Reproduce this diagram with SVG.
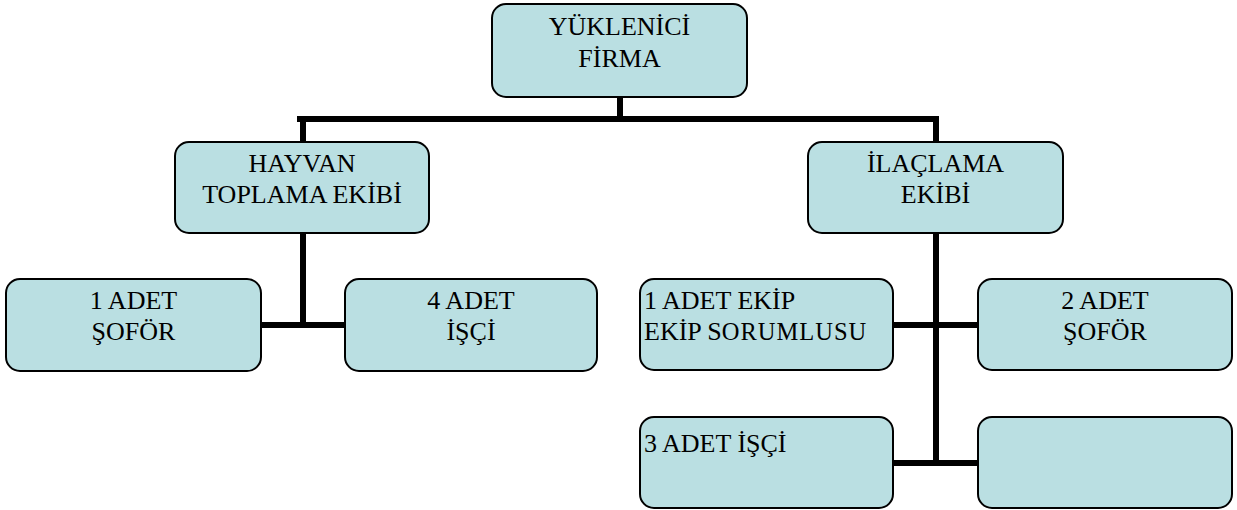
<svg xmlns="http://www.w3.org/2000/svg" width="1237" height="510" viewBox="0 0 1237 510">
<style>
.box{fill:#badfe2;stroke:#000;stroke-width:2}
.t{font-size:26px;fill:#000}
.c{text-anchor:middle}
.sc{font-size:24.5px;letter-spacing:1px}
.con{stroke:#000;stroke-width:6;fill:none}
</style>
<rect width="1237" height="510" fill="#fff"/>
<g id="connectors">
<path class="con" d="M620 97V119M297 119H939M303 119V142M936 119V142"/>
<path class="con" d="M303 233V325M261 325H345"/>
<path class="con" d="M936 233V463M893 325H978M893 463H978"/>
</g>
<g id="nodes" font-family="Liberation Serif, Times New Roman, serif">
<g id="n-yuklenici"><rect class="box" x="492" y="4" width="255" height="93" rx="14"/>
<text class="t c" x="619.5" y="35">YÜKLENİCİ</text><text class="t c" x="619.5" y="67">FİRMA</text></g>
<g id="n-hayvan"><rect class="box" x="175" y="142" width="254" height="91" rx="14"/>
<text class="t c" x="302" y="172">HAYVAN</text><text class="t c" x="302" y="203">TOPLAMA EKİBİ</text></g>
<g id="n-ilaclama"><rect class="box" x="808" y="142" width="255" height="91" rx="14"/>
<text class="t c" x="935.5" y="172">İLAÇLAMA</text><text class="t c" x="935.5" y="203">EKİBİ</text></g>
<g id="n-sofor1"><rect class="box" x="6" y="279" width="255" height="92" rx="14"/>
<text class="t c" x="133.5" y="309">1 ADET</text><text class="t c" x="133.5" y="340">ŞOFÖR</text></g>
<g id="n-isci4"><rect class="box" x="345" y="279" width="252" height="92" rx="14"/>
<text class="t c" x="471" y="309">4 ADET</text><text class="t c" x="471" y="340">İŞÇİ</text></g>
<g id="n-ekip"><rect class="box" x="640" y="279" width="253" height="91" rx="14"/>
<text class="t" x="644" y="309">1 ADET EKİP</text><text class="t" x="644" y="340">EKİP S<tspan class="sc">ORUMLUSU</tspan></text></g>
<g id="n-sofor2"><rect class="box" x="978" y="279" width="254" height="91" rx="14"/>
<text class="t c" x="1105" y="309">2 ADET</text><text class="t c" x="1105" y="340">ŞOFÖR</text></g>
<g id="n-isci3"><rect class="box" x="640" y="417" width="253" height="91" rx="14"/>
<text class="t" x="644" y="452">3 ADET İŞÇİ</text></g>
<g id="n-empty"><rect class="box" x="978" y="417" width="254" height="91" rx="14"/></g>
</g>
</svg>
